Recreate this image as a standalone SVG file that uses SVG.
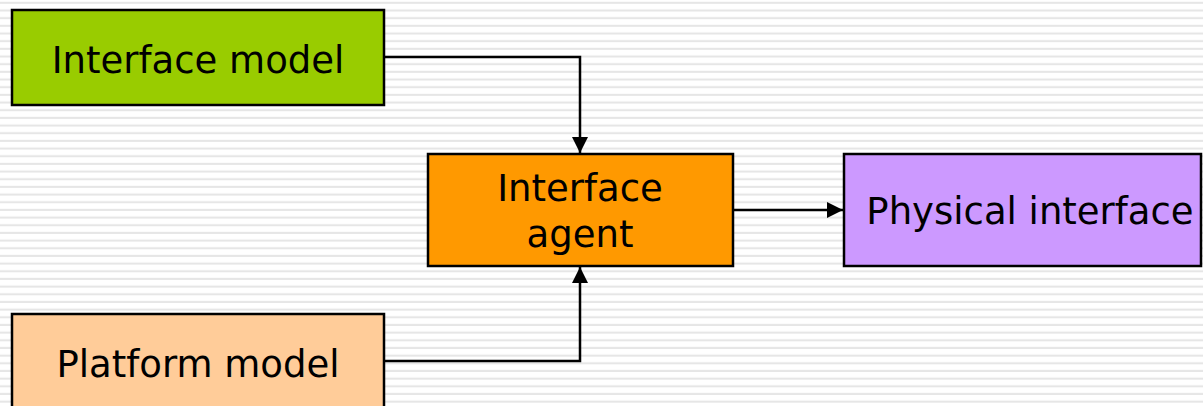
<svg xmlns="http://www.w3.org/2000/svg" width="1203" height="406" viewBox="0 0 1203 406">
  <defs>
    <pattern id="stripes" patternUnits="userSpaceOnUse" x="0" y="0" width="20" height="7.67">
      <rect x="0" y="0" width="20" height="7.67" fill="#ffffff"/>
      <rect x="0" y="1.8" width="20" height="2" fill="#e6e6e6"/>
    </pattern>
    <marker id="arrow" viewBox="0 0 16 16" refX="16" refY="8" markerWidth="16" markerHeight="16" markerUnits="userSpaceOnUse" orient="auto">
      <path d="M0,0 L16,8 L0,16 Z" fill="#000"/>
    </marker>
    <style>
      .box { stroke: #000; stroke-width: 2.5; }
      .label { font-family: "DejaVu Sans", Verdana, sans-serif; font-size: 37px; fill: #000; text-anchor: middle; }
      .wire { fill: none; stroke: #000; stroke-width: 2.5; marker-end: url(#arrow); }
    </style>
  </defs>

  <rect x="0" y="0" width="1203" height="406" fill="url(#stripes)"/>

  <g id="connectors">
    <path class="wire" d="M384,57 H580 V153"/>
    <path class="wire" d="M384,361 H580 V267"/>
    <path class="wire" d="M733,210 H843"/>
  </g>

  <g id="interface-model">
    <rect class="box" x="12" y="10" width="372" height="95" fill="#99cc00"/>
    <text class="label" x="198" y="73">Interface model</text>
  </g>

  <g id="interface-agent">
    <rect class="box" x="428" y="154" width="305" height="112" fill="#ff9900"/>
    <text class="label" x="580" y="201">Interface</text>
    <text class="label" x="580" y="247">agent</text>
  </g>

  <g id="physical-interface">
    <rect class="box" x="844" y="154" width="357" height="112" fill="#cc99ff"/>
    <text class="label" x="1030" y="224">Physical interface</text>
  </g>

  <g id="platform-model">
    <rect class="box" x="12" y="314" width="372" height="100" fill="#ffcc99"/>
    <text class="label" x="198" y="377">Platform model</text>
  </g>
</svg>
